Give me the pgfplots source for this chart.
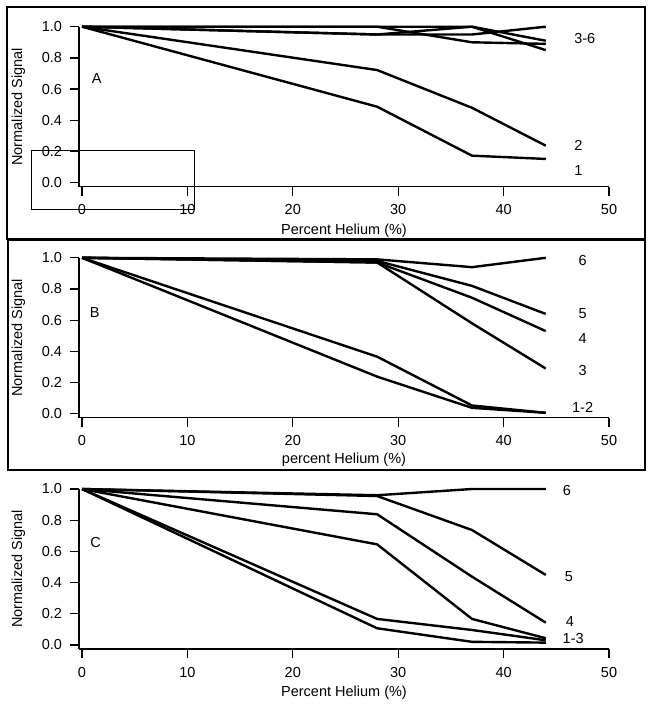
\documentclass[border=0pt]{standalone}
\usepackage{fontspec}
\setmainfont{Liberation Sans}
\usepackage{pgfplots}
\pgfplotsset{compat=1.18}
\begin{document}
\fontsize{14.5}{17}\selectfont
\begin{tikzpicture}
\path[use as bounding box] (0pt,0pt) rectangle (654pt,-709pt);
\pgfplotsset{
 panel/.style={
  scale only axis, width=530pt, height=160pt,
  xmin=-0.285, xmax=50, ymin=-0.026, ymax=1.0,
  axis x line*=bottom, axis y line*=left,
  tick align=outside, major tick length=9pt,
  xtick={0,10,...,50}, ytick={0,0.2,0.4,0.6,0.8,1.0},
  y tick label style={/pgf/number format/.cd,fixed,fixed zerofill,precision=1,/tikz/.cd, xshift=-3pt},
  x tick label style={yshift=-4pt},
  /pgf/number format/assume math mode=true,
  cycle list={{black,solid}},
  every axis plot/.append style={line width=2.4pt, no markers, line join=round},
  axis line style={line width=1.3pt},
  every tick/.style={line width=1.3pt, black},
  clip=false,
  ylabel={Normalized Signal},
  ylabel style={at={(axis description cs:-0.1145,0.5)}, anchor=center},
  xlabel style={at={(axis description cs:0.5,0)}, anchor=center, yshift=-44pt},
  anchor=south west,
 }
}
\draw[line width=1.5pt] (7pt,-7pt) rectangle (645pt,-239pt);
\draw[line width=1.5pt] (8pt,-240.5pt) rectangle (645pt,-470pt);
% Panel A
\begin{axis}[panel, at={(79pt,-186.7pt)}, xlabel={Percent Helium (\%)}]
\addplot coordinates {(0,1) (28,0.487) (37,0.173) (44,0.152)};
\addplot coordinates {(0,1) (28,0.722) (37,0.48) (44,0.237)};
\addplot coordinates {(0,1) (28,1.0) (37,1.0) (44,0.85)};
\addplot coordinates {(0,1) (28,1.0) (37,0.90) (44,0.89)};
\addplot coordinates {(0,1) (28,0.95) (37,1.0) (44,0.91)};
\addplot coordinates {(0,1) (28,0.95) (37,0.95) (44,1.0)};
\node at (axis cs:47.7,0.926) {3-6};
\node at (axis cs:47.1,0.24) {2};
\node at (axis cs:47.1,0.08) {1};
\node at (axis cs:1.4,0.67) {A};
\draw[line width=0.9pt] (axis cs:-4.77,0.205) rectangle (axis cs:10.67,-0.169);
\end{axis}
% Panel B
\begin{axis}[panel, at={(79pt,-417.8pt)}, xlabel={percent Helium (\%)}, xlabel style={yshift=2pt}]
\addplot coordinates {(0,1) (28,0.238) (37,0.038) (44,0.006)};
\addplot coordinates {(0,1) (28,0.366) (37,0.053) (44,0.006)};
\addplot coordinates {(0,1) (28,0.97) (37,0.58) (44,0.29)};
\addplot coordinates {(0,1) (28,0.97) (37,0.744) (44,0.53)};
\addplot coordinates {(0,1) (28,0.98) (37,0.82) (44,0.64)};
\addplot coordinates {(0,1) (28,0.99) (37,0.94) (44,1.0)};
\node at (axis cs:47.5,0.98) {6};
\node at (axis cs:47.5,0.64) {5};
\node at (axis cs:47.5,0.485) {4};
\node at (axis cs:47.5,0.28) {3};
\node at (axis cs:47.5,0.04) {1-2};
\node at (axis cs:1.2,0.65) {B};
\end{axis}
% Panel C
\begin{axis}[panel, at={(79pt,-649pt)}, xlabel={Percent Helium (\%)}]
\addplot coordinates {(0,1) (28,0.107) (37,0.02) (44,0.015)};
\addplot coordinates {(0,1) (28,0.167) (37,0.096) (44,0.03)};
\addplot coordinates {(0,1) (28,0.645) (37,0.167) (44,0.043)};
\addplot coordinates {(0,1) (28,0.838) (37,0.438) (44,0.143)};
\addplot coordinates {(0,1) (28,0.955) (37,0.737) (44,0.449)};
\addplot coordinates {(0,1) (28,0.96) (37,1.0) (44,1.0)};
\node at (axis cs:46.0,0.99) {6};
\node at (axis cs:46.2,0.44) {5};
\node at (axis cs:46.3,0.15) {4};
\node at (axis cs:46.6,0.04) {1-3};
\node at (axis cs:1.3,0.66) {C};
\end{axis}
\end{tikzpicture}
\end{document}
